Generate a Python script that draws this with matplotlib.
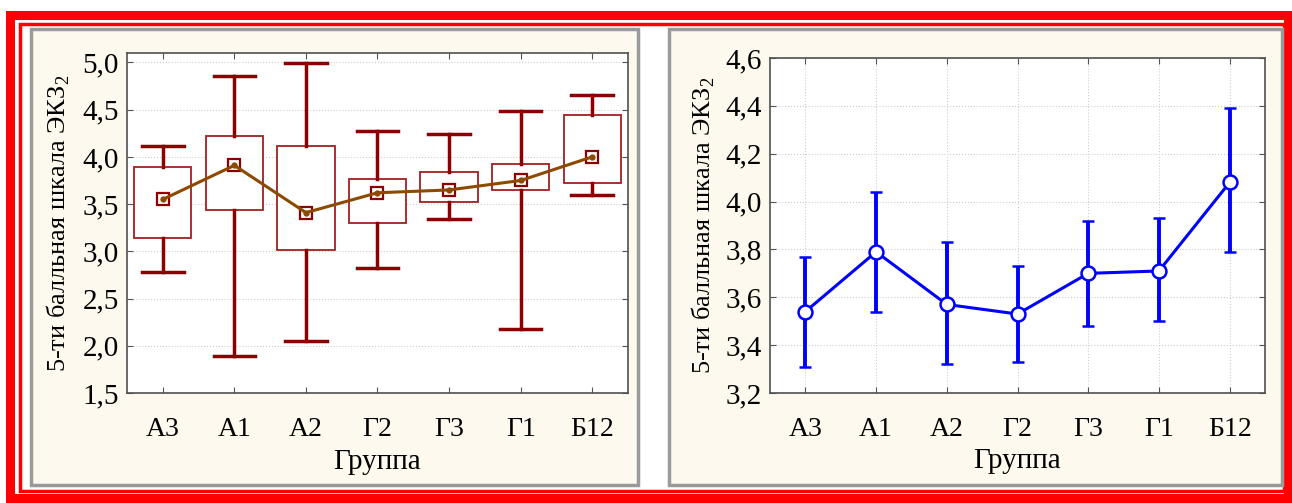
import matplotlib.pyplot as plt
from matplotlib.patches import Rectangle

plt.rcParams['font.family'] = ['Liberation Serif', 'DejaVu Serif']
plt.rcParams['mathtext.fontset'] = 'custom'
plt.rcParams['mathtext.rm'] = 'Liberation Serif'

# данные
groups = ['А3', 'А1', 'А2', 'Г2', 'Г3', 'Г1', 'Б12']

# левый график: среднее, границы ящика и усов
box_mean = [3.55, 3.91, 3.41, 3.62, 3.65, 3.75, 4.00]
box_low = [3.14, 3.44, 3.01, 3.30, 3.52, 3.65, 3.72]
box_high = [3.89, 4.22, 4.12, 3.77, 3.84, 3.92, 4.44]
whisk_low = [2.78, 1.89, 2.05, 2.82, 3.34, 2.18, 3.60]
whisk_high = [4.12, 4.86, 4.99, 4.27, 4.24, 4.49, 4.66]

# правый график: среднее и доверительный интервал
ci_mean = [3.54, 3.79, 3.57, 3.53, 3.70, 3.71, 4.08]
ci_low = [3.31, 3.54, 3.32, 3.33, 3.48, 3.50, 3.79]
ci_high = [3.77, 4.04, 3.83, 3.73, 3.92, 3.93, 4.39]

ylabel = '5-ти балльная шкала ЭКЗ$_\\mathregular{2}$'
xlabel = 'Группа'

W, H = 1292, 503
fig = plt.figure(figsize=(W / 100, H / 100), dpi=100)
fig.patch.set_facecolor('white')


def px_rect(x0, y0, x1, y1, **kw):
    # прямоугольник в пикселях (y сверху вниз)
    r = Rectangle((x0 / W, 1 - y1 / H), (x1 - x0) / W, (y1 - y0) / H,
                  transform=fig.transFigure, zorder=-1, **kw)
    fig.add_artist(r)


# красная рамка
px_rect(10, 15, 1288, 498, fill=False, edgecolor='#FF0000', linewidth=6.5)
px_rect(20, 24, 1284, 491, fill=False, edgecolor='#FF0000', linewidth=2.5)

# панели
for x0, x1 in [(31, 638), (669, 1282)]:
    px_rect(x0, 29, x1, 485, facecolor='#FDF9EE', edgecolor='#9A9A9A', linewidth=2.5)

x = list(range(len(groups)))

# ---- левый график ----
ax1 = fig.add_axes([127 / W, 1 - 393 / H, 501 / W, 340 / H])
for i in x:
    ax1.add_patch(Rectangle((i - 0.4, box_low[i]), 0.8, box_high[i] - box_low[i],
                            fill=True, facecolor='white', edgecolor='#A32020', linewidth=1.3, zorder=3))
    ax1.plot([i, i], [box_high[i], whisk_high[i]], color='#8B0000', linewidth=2.5, zorder=3)
    ax1.plot([i, i], [whisk_low[i], box_low[i]], color='#8B0000', linewidth=2.5, zorder=3)
    ax1.plot([i - 0.29, i + 0.29], [whisk_high[i]] * 2, color='#8B0000', linewidth=2.5, zorder=3)
    ax1.plot([i - 0.29, i + 0.29], [whisk_low[i]] * 2, color='#8B0000', linewidth=2.5, zorder=3)
ax1.plot(x, box_mean, marker='s', markersize=8.5, markerfacecolor='none',
         markeredgecolor='#8B0000', markeredgewidth=1.6, linestyle='none', zorder=4)
ax1.plot(x, box_mean, color='#8B4A00', linewidth=2.2, marker='o', markersize=3.5, zorder=5)
ax1.set_xlim(-0.5, 6.5)
ax1.set_ylim(1.5, 5.1)
ax1.set_yticks([1.5, 2.0, 2.5, 3.0, 3.5, 4.0, 4.5, 5.0])
ax1.set_yticklabels(['1,5', '2,0', '2,5', '3,0', '3,5', '4,0', '4,5', '5,0'])
ax1.yaxis.grid(True, linestyle=':', color='#CFCFCF', linewidth=0.8)

# ---- правый график ----
ax2 = fig.add_axes([770 / W, 1 - 393 / H, 495 / W, 335 / H])
err = [[m - l for m, l in zip(ci_mean, ci_low)], [h - m for m, h in zip(ci_mean, ci_high)]]
ax2.errorbar(x, ci_mean, yerr=err, color='#0000FF', linewidth=2.2, elinewidth=2.8,
             capsize=4, capthick=2.8, marker='o', markersize=10,
             markerfacecolor='white', markeredgecolor='#0000FF', markeredgewidth=1.8, zorder=3)
ax2.set_xlim(-0.5, 6.5)
ax2.set_ylim(3.2, 4.6)
ax2.set_yticks([3.2, 3.4, 3.6, 3.8, 4.0, 4.2, 4.4, 4.6])
ax2.set_yticklabels(['3,2', '3,4', '3,6', '3,8', '4,0', '4,2', '4,4', '4,6'])
ax2.grid(True, linestyle=':', color='#CFCFCF', linewidth=0.8)

# положение подписей осей (в долях осей)
label_x = [(72 - 127) / 501, (717 - 770) / 495]

for ax, ylx in zip((ax1, ax2), label_x):
    ax.set_facecolor('white')
    ax.set_axisbelow(True)
    ax.set_xticks(x)
    ax.set_xticklabels(groups, fontsize=20)
    ax.tick_params(axis='y', labelsize=21, pad=6)
    ax.tick_params(axis='x', pad=17)
    ax.tick_params(direction='in', length=4, top=True, right=True, color='#555555')
    for s in ax.spines.values():
        s.set_color('#505050')
        s.set_linewidth(1.2)
    ax.set_xlabel(xlabel, fontsize=21, va='center')
    ax.set_ylabel(ylabel, fontsize=19)
    ax.yaxis.set_label_coords(ylx, 0.5)
    ax.xaxis.set_label_coords(0.5, (393 - 462) / 340)

plt.savefig('out.png', dpi=100)
